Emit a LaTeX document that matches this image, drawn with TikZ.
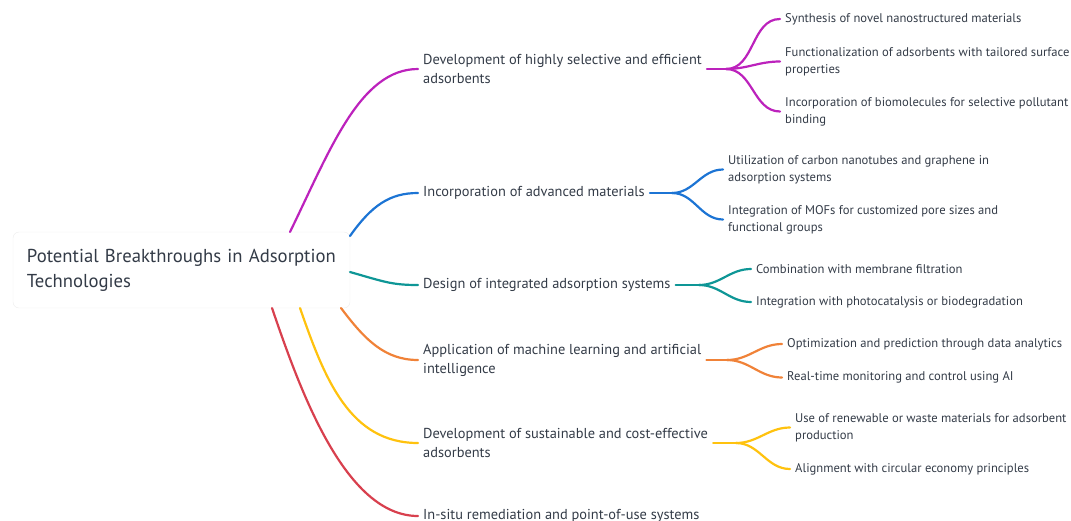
\documentclass[tikz,border=0pt]{standalone}
\usepackage{fontspec}
\setmainfont{PT Sans}
\usepackage{xcolor}
\definecolor{txt}{HTML}{333B47}
\definecolor{cpurple}{HTML}{BC22BC}
\definecolor{cblue}{HTML}{1C74D4}
\definecolor{cteal}{HTML}{0E9696}
\definecolor{corange}{HTML}{F08238}
\definecolor{cyellow}{HTML}{FFC20E}
\definecolor{cred}{HTML}{D8404E}
\tikzset{
	rootbox/.style={draw=black!7, fill=white, rounded corners=6pt, text=txt,
		font=\fontsize{18.7}{25}\selectfont, align=left, text width=309pt,
		inner xsep=14pt, minimum height=76pt},
	mainnode/.style={text=txt, font=\fontsize{14.4}{19}\selectfont, align=left,
		anchor=west, inner xsep=5pt, inner ysep=0pt},
	leafnode/.style={text=txt, font=\fontsize{12.6}{17}\selectfont, align=left,
		anchor=west, inner xsep=5pt, inner ysep=0pt},
	link/.style={line width=2.2pt, line cap=round},
}

\begin{document}
\begin{tikzpicture}[x=1pt,y=-1pt]
					\useasboundingbox (0,0) rectangle (1071,520);
					\node[rootbox] (root) at (181.5,270) {Potential Breakthroughs in Adsorption\\Technologies};
					
					\node[mainnode] (b1) at (418,69) {Development of highly selective and efficient\\adsorbents};
					\node[mainnode] (b2) at (418,193) {Incorporation of advanced materials};
					\node[mainnode] (b3) at (418,285) {Design of integrated adsorption systems};
					\node[mainnode] (b4) at (418,360) {Application of machine learning and artificial\\intelligence};
					\node[mainnode] (b5) at (418,443) {Development of sustainable and cost-effective\\adsorbents};
					\node[mainnode] (b6) at (418,516) {In-situ remediation and point-of-use systems};
					
					\node[leafnode] (l11) at (780,19) {Synthesis of novel nanostructured materials};
					\node[leafnode] (l12) at (780,61.5) {Functionalization of adsorbents with tailored surface\\properties};
					\node[leafnode] (l13) at (780,111.5) {Incorporation of biomolecules for selective pollutant\\binding};
					\node[leafnode] (l21) at (723,169.5) {Utilization of carbon nanotubes and graphene in\\adsorption systems};
					\node[leafnode] (l22) at (723,219.5) {Integration of MOFs for customized pore sizes and\\functional groups};
					\node[leafnode] (l31) at (751,269) {Combination with membrane filtration};
					\node[leafnode] (l32) at (751,302) {Integration with photocatalysis or biodegradation};
					\node[leafnode] (l41) at (782,344) {Optimization and prediction through data analytics};
					\node[leafnode] (l42) at (782,377.5) {Real-time monitoring and control using AI};
					\node[leafnode] (l51) at (790,427.5) {Use of renewable or waste materials for adsorbent\\production};
					\node[leafnode] (l52) at (790,469) {Alignment with circular economy principles};
					
					% where the curves leave the root box
					\coordinate (r1) at (290,232);
					\coordinate (r2) at (350,236);
					\coordinate (r3) at (350,272);
					\coordinate (r4) at (341,308);
					\coordinate (r5) at (300,308);
					\coordinate (r6) at (272,308);
					
					\draw[link,cpurple] (r1) .. controls (330,150) and (360,69) .. (b1.west);
					\draw[link,cblue] (r2) .. controls (372,205) and (390,193) .. (b2.west);
					\draw[link,cteal] (r3) .. controls (385,282) and (392,285) .. (b3.west);
					\draw[link,corange] (r4) .. controls (365,340) and (385,360) .. (b4.west);
					\draw[link,cyellow] (r5) .. controls (325,380) and (350,443) .. (b5.west);
					\draw[link,cred] (r6) .. controls (300,390) and (345,516) .. (b6.west);
					
					% forks
					\coordinate (f1) at (726,69);
					\coordinate (f2) at (672,193);
					\coordinate (f3) at (699,285);
					\coordinate (f4) at (727,360);
					\coordinate (f5) at (736,443);
					
					\draw[link,cpurple] (b1.east) -- (f1);
					\foreach \l in {l11,l12,l13}{
						\draw[link,cpurple] (f1) to[out=0,in=180] (\l.west);
					}
					\draw[link,cblue] (b2.east) -- (f2);
					\foreach \l in {l21,l22}{
						\draw[link,cblue] (f2) to[out=0,in=180] (\l.west);
					}
					\draw[link,cteal] (b3.east) -- (f3);
					\foreach \l in {l31,l32}{
						\draw[link,cteal] (f3) to[out=0,in=180] (\l.west);
					}
					\draw[link,corange] (b4.east) -- (f4);
					\foreach \l in {l41,l42}{
						\draw[link,corange] (f4) to[out=0,in=180] (\l.west);
					}
					\draw[link,cyellow] (b5.east) -- (f5);
					\foreach \l in {l51,l52}{
						\draw[link,cyellow] (f5) to[out=0,in=180] (\l.west);
					}
				\end{tikzpicture}
\end{document}
